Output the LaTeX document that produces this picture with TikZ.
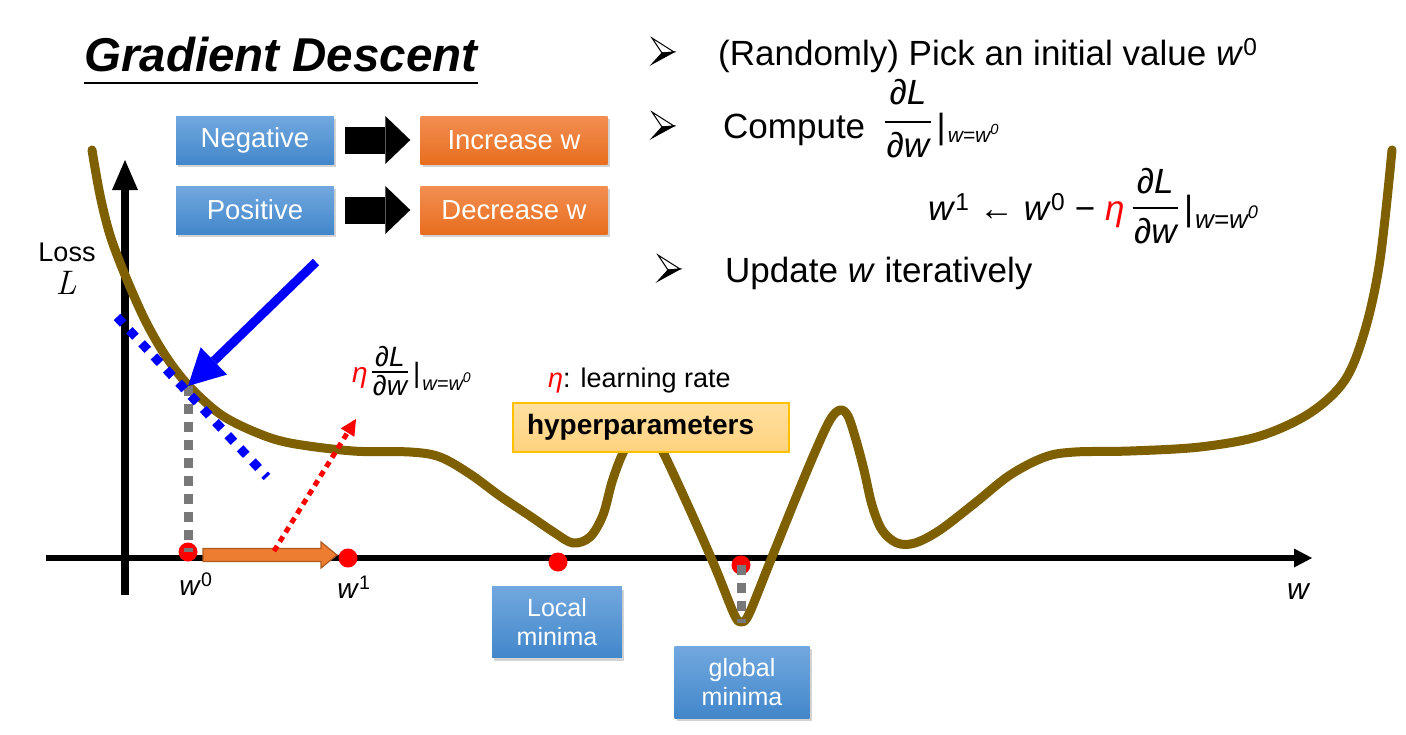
\documentclass[tikz,border=0pt]{standalone}
\usepackage{fontspec}
\setmainfont{Liberation Sans}
\newfontfamily\lmroman{Latin Modern Roman}
\usetikzlibrary{arrows.meta,shadows,calc}

\definecolor{curvebrown}{RGB}{127,96,0}
\definecolor{bluT}{RGB}{114,168,223}
\definecolor{bluB}{RGB}{66,135,202}
\definecolor{oraT}{RGB}{243,142,82}
\definecolor{oraB}{RGB}{232,110,30}
\definecolor{hypT}{RGB}{255,224,160}
\definecolor{hypB}{RGB}{255,210,128}
\definecolor{hypEdge}{RGB}{255,192,0}
\definecolor{stepOrange}{RGB}{237,125,49}
\definecolor{stepOrangeD}{RGB}{174,90,33}
\definecolor{dotgray}{RGB}{120,120,120}

\newcommand{\fs}[1]{\fontsize{#1}{#1}\selectfont}
% dL/dw stacked over a rule: #1 width, #2 numerator raise, #3 rule raise, #4 denominator drop
\newcommand{\pdfrac}[4]{\mbox{\rlap{\makebox[#1][c]{\raisebox{#2}{\itshape ∂L}}}%
  \rlap{\raisebox{#3}{\rule{#1}{1.8pt}}}\makebox[#1][c]{\raisebox{-#4}{\itshape ∂w}}}}
% evaluation bar with subscript w=w^0: #1 subscript size, #2 drop
\newcommand{\evat}[2]{|\hspace{2pt}\raisebox{-#2}{\fontsize{#1}{#1}\selectfont\itshape w=w\textsuperscript{0}}}

\begin{document}
\begin{tikzpicture}[x=1pt,y=-1pt,
  bbox/.style={rectangle, inner sep=0pt, top color=bluT, bottom color=bluB,
    text=white, font=\fs{27.5},
    drop shadow={opacity=0.35, shadow xshift=2pt, shadow yshift=-3pt}},
  obox/.style={bbox, top color=oraT, bottom color=oraB},
  blockarrow/.style={line width=27pt, black,
    -{Triangle[length=25pt, width=48pt, line width=0pt]}},
  axisline/.style={black},
  txt/.style={anchor=base west, inner sep=0pt, font=\fs{35}},
  reddot/.style={circle, fill=red, inner sep=0pt, minimum size=19pt},
  graydots/.style={dotgray, line width=9pt, dash pattern=on 10pt off 8pt},
  minbox/.style={bbox, align=center, font=\fontsize{25}{29}\selectfont},
  bularrow/.pic={
    \filldraw[fill=white, draw=black, line width=1pt, line join=miter]
      (-11,-13) -- (11,1) -- (-1,2) -- cycle;
    \filldraw[fill=black, draw=black, line width=1pt, line join=miter]
      (-1,2) -- (11,1) -- (-11,13) -- cycle;
  },
]
\useasboundingbox (0,0) rectangle (1406,734);

% ---------- title ----------
\node[anchor=base west, inner sep=0pt, font=\fs{47.5}\bfseries\itshape] (title) at (84,71) {Gradient Descent};
\draw[line width=2.5pt] ([yshift=-12pt]title.base west) -- ([yshift=-12pt]title.base east);

% ---------- sign rule boxes ----------
\node[bbox, minimum width=158pt, minimum height=48pt] (neg) at (255,140) {Negative};
\node[obox, minimum width=187pt, minimum height=48pt] (inc) at (514,140) {Increase w};
\node[bbox, minimum width=158pt, minimum height=48pt] (pos) at (255,210) {Positive};
\node[obox, minimum width=187pt, minimum height=48pt] (dec) at (514,210) {Decrease w};
\draw[blockarrow, shorten <=11pt, shorten >=10pt] (neg.east) -- (inc.west);
\draw[blockarrow, shorten <=11pt, shorten >=10pt] (pos.east) -- (dec.west);

% ---------- algorithm steps ----------
\pic at (663,51) {bularrow};
\pic at (663,125) {bularrow};
\pic at (669,268) {bularrow};
\node[txt] (s1) at (718,65) {(Randomly) Pick an initial value \textit{w}\textsuperscript{0}};
\node[txt] (s2) at (723,138) {Compute\hspace{20pt}\pdfrac{1.3em}{34pt}{15pt}{19pt}\hspace{6pt}\evat{21}{4pt}};
\node[txt] (s3) at (928,220) {\textit{w}\textsuperscript{1} ← \textit{w}\textsuperscript{0} − {\color{red}\textit{η}}\hspace{8pt}\pdfrac{1.3em}{27pt}{11pt}{23pt}\hspace{6pt}\evat{26}{8pt}};
\node[txt] (s4) at (725,282) {Update \textit{w} iteratively};

% ---------- axes ----------
\coordinate (yA) at (125,595);
\coordinate (yB) at (125,160);
\coordinate (xA) at (46,558);
\coordinate (xB) at (1312,558);
\draw[axisline, line width=8pt, -{Triangle[length=30pt, width=26pt, line width=0pt]}] (yA) -- (yB);
\draw[axisline, line width=6pt, -{Triangle[length=18pt, width=19pt, line width=0pt]}] (xA) -- (xB);
\node[font=\fs{27}] (loss) at (67,252) {Loss};
\node[font=\lmroman\fs{34}\itshape] (lossL) at (66,283) {L};
\node[font=\fs{30}\itshape] (wlab) at (1298,592) {w};

% ---------- loss curve ----------
\draw[curvebrown, line width=9pt, line cap=round, line join=round]
  plot[smooth, tension=0.55] coordinates {
  (92,150) (100,195) (110,235) (125,275) (145,320) (165,355) (188,385)
  (220,414) (255,432) (290,443) (353,451) (410,452) (440,457) (470,474)
  (500,496) (530,516) (555,533) (573,543) (590,537) (603,515) (612,482)
  (622,455) (635,432) (648,426) (663,452) (690,510) (715,567) (734,614)
  (741,622) (749,614) (770,562) (795,500) (815,452) (830,420) (840,410)
  (848,416) (856,440) (864,470) (872,505) (882,530) (897,543) (915,543)
  (940,530) (975,503) (1010,475) (1045,457) (1075,452) (1130,451)
  (1200,447) (1260,436) (1310,413) (1345,380) (1365,330) (1380,260) (1392,150)};

% ---------- hyperparameters ----------
\node[anchor=base west, inner sep=0pt, font=\fs{27}] (lr) at (548,387) {{\color{red}\textit{η}}: learning rate};
\node[anchor=west, rectangle, top color=hypT, bottom color=hypB, draw=hypEdge, line width=2pt,
  minimum height=49pt, text width=248pt, inner xsep=14pt, align=left, font=\fs{28}\bfseries] (hyp) at (512,427) {hyperparameters};

% ---------- minima labels ----------
\node[minbox, minimum width=130pt, minimum height=71pt] (loc) at (557,622) {Local\\minima};
\node[minbox, minimum width=135pt, minimum height=72pt] (glob) at (742,682) {global\\minima};

% ---------- points on the w axis ----------
\node[reddot] (d0) at (188,552) {};
\node[reddot] (d1) at (348,558) {};
\node[reddot] (dl) at (558,562) {};
\node[reddot] (dg) at (741,565) {};
\node[font=\fs{28}] (w0l) at (196,584) {\textit{w}\textsuperscript{0}};
\node[font=\fs{28}] (w1l) at (354,587) {\textit{w}\textsuperscript{1}};

% ---------- projections ----------
\coordinate (p0) at (188,386);
\coordinate (gm) at (741,623);
\draw[graydots] (p0) -- (d0.center);
\draw[graydots] (dg.center) -- (gm);

% ---------- tangent at w0 ----------
\coordinate (tA) at (117,317);
\coordinate (tB) at (267,477);
\draw[blue, line width=9pt, dash pattern=on 9pt off 9pt] (tA) -- (tB);

% ---------- pointer to w0 on the curve ----------
\coordinate (ptr) at (316,262);
\draw[blue, line width=9pt, -{Triangle[length=36pt, width=38pt, line width=0pt]}] (ptr) -- (p0);

% ---------- update step ----------
\filldraw[fill=stepOrange, draw=stepOrangeD, line width=1.2pt]
  ($(d0)+(15,-3.5)$) -- ($(d0)+(133,-3.5)$) -- ($(d0)+(133,-10)$) -- ($(d0)+(149,3)$)
  -- ($(d0)+(133,16)$) -- ($(d0)+(133,9.5)$) -- ($(d0)+(15,9.5)$) -- cycle;
\coordinate (rA) at (274,551);
\coordinate (rB) at (356,419);
\draw[red, line width=5pt, dash pattern=on 6pt off 5pt,
  -{Triangle[length=16pt, width=16pt, line width=0pt]}] (rA) -- (rB);
\node[anchor=base west, inner sep=0pt, font=\fs{28}] (stepl) at (352,382) {{\color{red}\textit{η}}\hspace{4pt}\pdfrac{1.3em}{16pt}{9pt}{13pt}\hspace{5pt}\evat{20}{8pt}};
\end{tikzpicture}
\end{document}
